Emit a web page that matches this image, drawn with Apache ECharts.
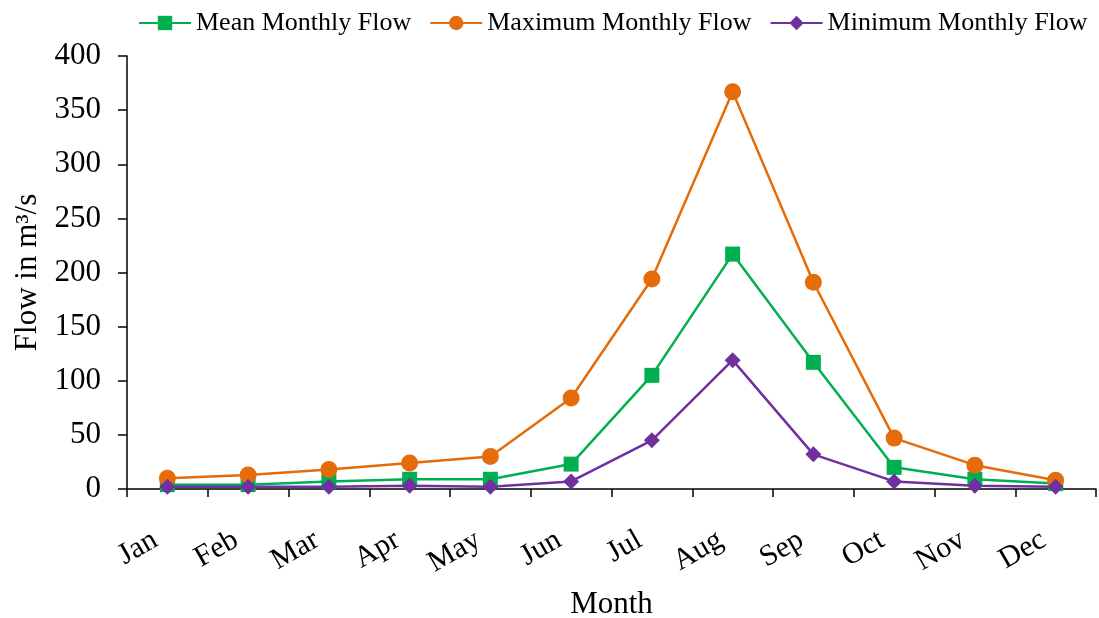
<!DOCTYPE html>
<html>
<head>
<meta charset="utf-8">
<script src="https://cdn.jsdelivr.net/npm/echarts@6/dist/echarts.min.js"></script>
<style>
  html, body { margin: 0; padding: 0; background: #fff; }
  #chart { width: 1099px; height: 618px; }
</style>
</head>
<body>
<div id="chart"></div>
<script>
// Monthly river flow statistics (m³/s)
const months = ['Jan', 'Feb', 'Mar', 'Apr', 'May', 'Jun', 'Jul', 'Aug', 'Sep', 'Oct', 'Nov', 'Dec'];
const meanFlow = [4, 4, 7, 9, 9, 23, 105, 217, 117, 20, 9, 5];
const maxFlow = [10, 13, 18, 24, 30, 84, 194, 367, 191, 47, 22, 8];
const minFlow = [2, 2, 2, 3, 2, 7, 45, 119, 32, 7, 3, 2];
const yTicks = { min: 0, max: 400, interval: 50 };

const font = '"Liberation Serif", "Times New Roman", serif';

function lineSeries(name, data, color, symbol, size) {
  return {
    name: name,
    type: 'line',
    data: data,
    symbol: symbol,
    symbolSize: size,
    lineStyle: { color: color, width: 2.5 },
    itemStyle: { color: color },
    emphasis: { disabled: true },
    z: 3
  };
}

const chart = echarts.init(document.getElementById('chart'), null, { renderer: 'canvas' });
chart.setOption({
  animation: false,
  backgroundColor: '#fff',
  textStyle: { fontFamily: font, color: '#000' },
  legend: {
    top: 5,
    left: 133,
    itemWidth: 52,
    itemHeight: 18,
    itemGap: 18,
    textStyle: { fontFamily: font, fontSize: 26, color: '#000' },
    data: ['Mean Monthly Flow', 'Maximum Monthly Flow', 'Minimum Monthly Flow']
  },
  grid: { left: 127, right: 3, top: 56, bottom: 129, containLabel: false, outerBoundsMode: 'none' },
  xAxis: {
    type: 'category',
    data: months,
    boundaryGap: true,
    name: 'Month',
    nameLocation: 'middle',
    nameGap: 100,
    nameTextStyle: { fontFamily: font, fontSize: 31, color: '#000' },
    axisLine: { lineStyle: { color: '#000', width: 1.5 } },
    axisTick: { show: true, alignWithLabel: false, length: 8, lineStyle: { color: '#000', width: 1.5 } },
    axisLabel: { rotate: 30, fontFamily: font, fontSize: 30, color: '#000', margin: 42, padding: [0, 14, 0, 0] },
    splitLine: { show: false }
  },
  yAxis: {
    type: 'value',
    min: yTicks.min,
    max: yTicks.max,
    interval: yTicks.interval,
    name: 'Flow in m³/s',
    nameLocation: 'middle',
    nameGap: 81,
    nameRotate: 90,
    nameTextStyle: { fontFamily: font, fontSize: 31, color: '#000' },
    axisLine: { show: true, lineStyle: { color: '#000', width: 1.5 } },
    axisTick: { show: true, inside: false, length: 9, lineStyle: { color: '#000', width: 1.5 } },
    axisLabel: { fontFamily: font, fontSize: 31, color: '#000', margin: 26 },
    splitLine: { show: false }
  },
  series: [
    lineSeries('Mean Monthly Flow', meanFlow, '#00B050', 'rect', 15),
    lineSeries('Maximum Monthly Flow', maxFlow, '#E46C0A', 'circle', 17),
    lineSeries('Minimum Monthly Flow', minFlow, '#7030A0', 'diamond', 16)
  ]
});
</script>
</body>
</html>
